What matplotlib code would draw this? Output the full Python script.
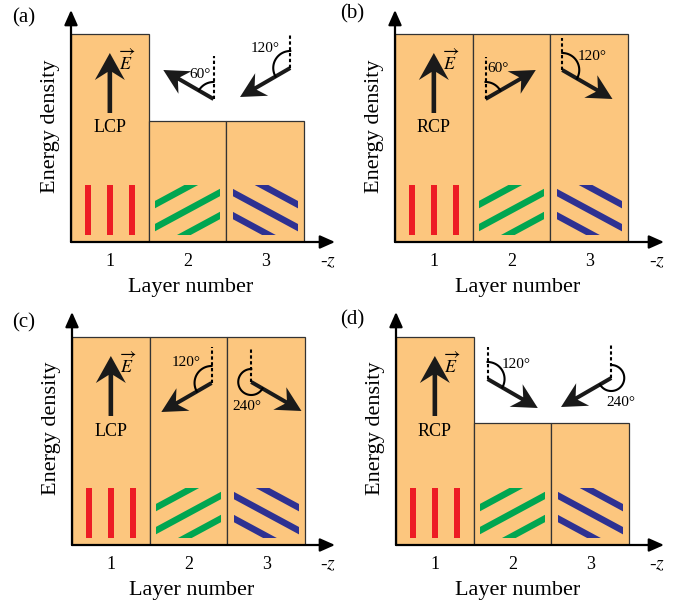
import numpy as np
import matplotlib
matplotlib.use('Agg')
import matplotlib.pyplot as plt
from matplotlib.patches import Polygon, Rectangle

plt.rcParams['font.family'] = ['Liberation Serif', 'DejaVu Serif']
plt.rcParams['mathtext.fontset'] = 'stix'

# ---------------- data ----------------
layers = [1, 2, 3]
layer_labels = ['1', '2', '3']
panel_labels = ['(a)', '(b)', '(c)', '(d)']
energy_a = [1.0, 0.58, 0.58]
energy_b = [1.0, 1.0, 1.0]
energy_c = [1.0, 1.0, 1.0]
energy_d = [1.0, 0.585, 0.585]
polarization = ['LCP', 'RCP', 'LCP', 'RCP']
# rotation of E in layers 2 and 3 (deg, + = counter-clockwise from vertical)
rot_a = [60, 120]
rot_b = [-60, -120]
rot_c = [120, 240]
rot_d = [-120, -240]
angle_text_a = ['60°', '120°']
angle_text_b = ['60°', '120°']
angle_text_c = ['120°', '240°']
angle_text_d = ['120°', '240°']

# ---------------- style ----------------
FILL = '#FCC67E'
EDGE = '#333333'
RED = '#ED1C24'
GREEN = '#00A651'
BLUE = '#2E3192'

W, H = 683, 602
SX, SY = 77.7, 208.0   # px per layer unit / per energy unit

fig = plt.figure(figsize=(W / 100, H / 100), dpi=100)

# layout: x0, y0 (axis origin px), xend, ytop, label pos
layouts = [
    dict(x0=71, y0=242, xend=335, ytop=10, lab=(24, 18)),
    dict(x0=395, y0=242, xend=664, ytop=10, lab=(352, 14)),
    dict(x0=72, y0=545, xend=335, ytop=312, lab=(24, 323)),
    dict(x0=396, y0=545, xend=664, ytop=312, lab=(352, 320)),
]
# arrow geometry (px relative to layer centre / axis): origin, dash length, label offset, arc radius
arrow_geo = [
    [dict(o=(26, 143), dl=43, lo=(-13, 25), r=17), dict(o=(25, 174), dl=34, lo=(-25, 19), r=17)],
    [dict(o=(-26, 143), dl=42, lo=(13, 31), r=17), dict(o=(-27, 172), dl=32, lo=(30, 13), r=17)],
    [dict(o=(23, 162), dl=36, lo=(-25, 21), r=17), dict(o=(-15, 163), dl=35, lo=(-4, -25), r=13)],
    [dict(o=(-25, 166), dl=32, lo=(29, 14), r=17), dict(o=(21, 167), dl=35, lo=(10, -24), r=13)],
]

energies = [energy_a, energy_b, energy_c, energy_d]
rots = [rot_a, rot_b, rot_c, rot_d]
angle_texts = [angle_text_a, angle_text_b, angle_text_c, angle_text_d]


def P(layer, dx, dy):
    """px offset from layer centre / x-axis -> data coords"""
    return (layer + dx / SX, dy / SY)


def arrow_pts(ox, oy, ang, L, hl, hw, notch, sw):
    a = np.deg2rad(ang)
    d = np.array([-np.sin(a), np.cos(a)])
    n = np.array([-d[1], d[0]])
    o = np.array([ox, oy])
    tip = o + L * d
    back = tip - hl * d
    se = tip - (hl - notch) * d
    s = sw / 2
    return [o + s * n, se + s * n, back + hw * n, tip, back - hw * n, se - s * n, o - s * n]


for k, lay in enumerate(layouts):
    x0, y0, xend, ytop = lay['x0'], lay['y0'], lay['xend'], lay['ytop']
    ax = fig.add_axes([x0 / W, 1 - y0 / H, (xend - x0) / W, (y0 - ytop) / H])
    xmax = 0.5 + (xend - x0) / SX
    ymax = (y0 - ytop) / SY
    ax.set_xlim(0.5, xmax)
    ax.set_ylim(0, ymax)
    for sp in ax.spines.values():
        sp.set_visible(False)
    ax.patch.set_alpha(0)

    ax.bar(layers, energies[k], width=1.0, color=FILL, edgecolor=EDGE, linewidth=0.9, zorder=1)

    # axis arrows
    ap = dict(arrowstyle='-|>,head_length=0.45,head_width=0.2', lw=1.6, color='k',
              mutation_scale=20, shrinkA=0, shrinkB=0)
    ax.annotate('', xy=(xmax, 0), xytext=(0.5, 0), arrowprops=ap, annotation_clip=False, zorder=5)
    ax.annotate('', xy=(0.5, ymax), xytext=(0.5, 0), arrowprops=ap, annotation_clip=False, zorder=5)

    ax.set_xticks(layers, layer_labels)
    ax.set_yticks([])
    ax.tick_params(axis='x', length=0, pad=8, labelsize=13)
    ax.set_xlabel('Layer number', fontsize=16, labelpad=6, x=0.455)
    ax.set_ylabel('Energy density', fontsize=16, labelpad=8)
    ax.text(xmax - 7 / SX, -20 / SY, r'-$z$', fontsize=14, ha='center', va='center')

    fig.text(lay['lab'][0] / W, 1 - lay['lab'][1] / H, panel_labels[k], fontsize=15,
             ha='center', va='center')

    # --- stripes ---
    # layer 1: red vertical bars
    for dx in (-22, 0, 22):
        x, y = P(1, dx - 3.3, 7)
        ax.add_patch(Rectangle((x, y), 6.6 / SX, 50 / SY, color=RED, lw=0, zorder=2))
    # layers 2,3: diagonal stripes clipped to a box
    for layer, sgn, col in ((2, 1, GREEN), (3, -1, BLUE)):
        bx, by = P(layer, -32.5, 7)
        clip = Rectangle((bx, by), 65 / SX, 50 / SY, transform=ax.transData)
        slope = 0.54 * sgn
        for c in (-23, 0, 23):
            xs = np.array([-45, 45])
            yc = 32 + c + slope * xs
            pts = [P(layer, xs[0], yc[0] - 3.7), P(layer, xs[1], yc[1] - 3.7),
                   P(layer, xs[1], yc[1] + 3.7), P(layer, xs[0], yc[0] + 3.7)]
            poly = Polygon(pts, closed=True, color=col, lw=0, zorder=2)
            ax.add_patch(poly)
            poly.set_clip_path(clip)

    # --- E arrow in layer 1 ---
    pts = arrow_pts(0, 129, 0, 60, 27, 15, 8, 4.6)
    ax.add_patch(Polygon([P(1, px, py) for px, py in pts], closed=True, color='#1a1a1a',
                         lw=0, zorder=4, clip_on=False))
    ex, ey = P(1, 17, 181)
    ax.text(ex, ey, r'$\overrightarrow{E}$', fontsize=13, ha='center', va='center')
    tx, ty = P(1, 0, 114)
    ax.text(tx, ty, polarization[k], fontsize=13, ha='center', va='center')

    # --- rotated arrows in layers 2,3 ---
    for j, layer in enumerate((2, 3)):
        g = arrow_geo[k][j]
        ox, oy = g['o']
        rot = rots[k][j]
        pts = arrow_pts(ox, oy, rot, 58, 25, 13, 7, 4.0)
        ax.add_patch(Polygon([P(layer, px, py) for px, py in pts], closed=True,
                             color='#1a1a1a', lw=0, zorder=4, clip_on=False))
        # dashed reference line
        xa, ya = P(layer, ox, oy)
        xb, yb = P(layer, ox, oy + g['dl'])
        ax.plot([xa, xb], [ya, yb], color='k', lw=1.5, ls=(0, (1.6, 1.2)), zorder=4,
                clip_on=False, solid_capstyle='butt', dash_capstyle='butt')
        # angle arc
        th = np.deg2rad(np.linspace(90, 90 + rot, 80))
        r = g['r']
        arc = [P(layer, ox + r * np.cos(t), oy + r * np.sin(t)) for t in th]
        arc = np.array(arc)
        ax.plot(arc[:, 0], arc[:, 1], color='k', lw=1.5, zorder=4, clip_on=False)
        lx, ly = P(layer, ox + g['lo'][0], oy + g['lo'][1])
        ax.text(lx, ly, angle_texts[k][j], fontsize=11, ha='center', va='center', zorder=5)

fig.savefig('out.png', dpi=100)
